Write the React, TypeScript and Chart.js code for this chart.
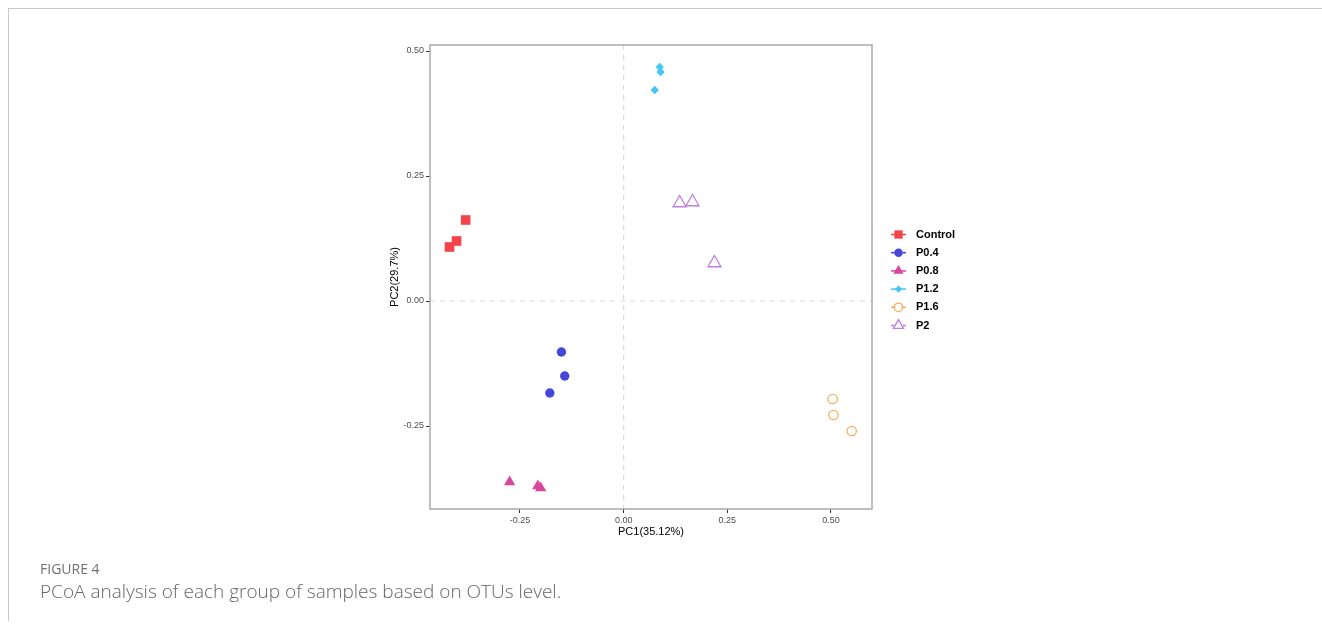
import React, { useEffect, useRef } from "react";
import { Chart, registerables } from "chart.js";

Chart.register(...registerables);

// ---- data ----
const groups = ["Control", "P0.4", "P0.8", "P1.2", "P1.6", "P2"];

const controlPC1 = [-0.42, -0.403, -0.381];
const controlPC2 = [0.108, 0.12, 0.162];

const p04PC1 = [-0.15, -0.142, -0.178];
const p04PC2 = [-0.102, -0.15, -0.184];

const p08PC1 = [-0.275, -0.207, -0.2];
const p08PC2 = [-0.362, -0.37, -0.374];

const p12PC1 = [0.087, 0.089, 0.075];
const p12PC2 = [0.468, 0.458, 0.422];

const p16PC1 = [0.504, 0.506, 0.55];
const p16PC2 = [-0.196, -0.228, -0.26];

const p2PC1 = [0.135, 0.166, 0.219];
const p2PC2 = [0.196, 0.198, 0.076];

const tickValues = [-0.25, 0, 0.25, 0.5];

const xLabel = "PC1(35.12%)";
const yLabel = "PC2(29.7%)";

// ---- styling ----
const colors = ["#F5434A", "#4646D8", "#D9469C", "#45C6F5", "#F7AE62", "#BF7FE0"];
const shapes = ["rect", "circle", "triangle", "rectRot", "circle", "triangle"];
const radii = [6.8, 4.7, 6.5, 4.2, 4.7, 7.5];
const filled = [true, true, true, true, false, false];

const pcs: [number[], number[]][] = [
  [controlPC1, controlPC2],
  [p04PC1, p04PC2],
  [p08PC1, p08PC2],
  [p12PC1, p12PC2],
  [p16PC1, p16PC2],
  [p2PC1, p2PC2],
];

function drawMarker(ctx: CanvasRenderingContext2D, shape: string, x: number, y: number, r: number, color: string, fill: boolean) {
  ctx.save();
  ctx.beginPath();
  if (shape === "rect") {
    const s = Math.SQRT1_2 * r;
    ctx.rect(x - s, y - s, 2 * s, 2 * s);
  } else if (shape === "circle") {
    ctx.arc(x, y, r, 0, Math.PI * 2);
  } else if (shape === "triangle") {
    ctx.moveTo(x, y - r);
    ctx.lineTo(x + r * Math.cos(Math.PI / 6), y + r / 2);
    ctx.lineTo(x - r * Math.cos(Math.PI / 6), y + r / 2);
    ctx.closePath();
  } else if (shape === "rectRot") {
    ctx.moveTo(x, y - r);
    ctx.lineTo(x + r, y);
    ctx.lineTo(x, y + r);
    ctx.lineTo(x - r, y);
    ctx.closePath();
  }
  if (fill) {
    ctx.fillStyle = color;
    ctx.fill();
  } else {
    ctx.strokeStyle = color;
    ctx.lineWidth = 1.3;
    ctx.stroke();
  }
  ctx.restore();
}

const framePlugin = {
  id: "frameAndZero",
  beforeDatasetsDraw(chart: any) {
    const { ctx, chartArea, scales } = chart;
    const x0 = scales.x.getPixelForValue(0);
    const y0 = scales.y.getPixelForValue(0);
    ctx.save();
    ctx.strokeStyle = "#d9d9d9";
    ctx.lineWidth = 1.2;
    ctx.setLineDash([5, 5]);
    ctx.beginPath();
    ctx.moveTo(x0, chartArea.top);
    ctx.lineTo(x0, chartArea.bottom);
    ctx.moveTo(chartArea.left, y0);
    ctx.lineTo(chartArea.right, y0);
    ctx.stroke();
    ctx.setLineDash([]);
    ctx.strokeStyle = "#a9a9a9";
    ctx.lineWidth = 1.5;
    ctx.strokeRect(chartArea.left, chartArea.top, chartArea.right - chartArea.left, chartArea.bottom - chartArea.top);
    ctx.restore();
  },
};

const legendPlugin = {
  id: "lineMarkerLegend",
  afterDraw(chart: any) {
    const { ctx, chartArea } = chart;
    const spacing = 18.2;
    const cy = (chartArea.top + chartArea.bottom) / 2 + 3;
    const yStart = cy - (spacing * (groups.length - 1)) / 2;
    const lx = chartArea.right + 19;
    ctx.save();
    groups.forEach((g, i) => {
      const y = yStart + i * spacing;
      ctx.strokeStyle = colors[i];
      ctx.lineWidth = 1.5;
      ctx.beginPath();
      ctx.moveTo(lx, y);
      ctx.lineTo(lx + 15, y);
      ctx.stroke();
      const rr = Math.min(radii[i], 6.5) * (shapes[i] === "rectRot" ? 0.85 : 0.9);
      if (!filled[i]) {
        ctx.fillStyle = "#fff";
        ctx.beginPath();
        ctx.arc(lx + 7.5, y, rr * 0.7, 0, Math.PI * 2);
        ctx.fill();
      }
      drawMarker(ctx, shapes[i], lx + 7.5, y, rr, colors[i], filled[i]);
      ctx.fillStyle = "#000";
      ctx.font = "bold 11px 'Liberation Sans', Arial, sans-serif";
      ctx.textBaseline = "middle";
      ctx.textAlign = "left";
      ctx.fillText(g, lx + 25, y);
    });
    ctx.restore();
  },
};

function PCoAChart() {
  const ref = useRef<HTMLCanvasElement | null>(null);
  useEffect(() => {
    if (!ref.current) return;
    const datasets = groups.map((g, i) => ({
      label: g,
      data: pcs[i][0].map((x, j) => ({ x, y: pcs[i][1][j] })),
      pointStyle: shapes[i] as any,
      pointRadius: radii[i],
      pointHoverRadius: radii[i],
      backgroundColor: filled[i] ? colors[i] : "rgba(0,0,0,0)",
      borderColor: colors[i],
      pointBorderWidth: filled[i] ? 0 : 1.3,
      borderWidth: filled[i] ? 0 : 1.3,
      showLine: false,
    }));
    const tickFont = { family: "'Liberation Sans', Arial, sans-serif", size: 9 };
    const chart = new Chart(ref.current, {
      type: "scatter",
      data: { datasets },
      options: {
        animation: false,
        responsive: false,
        maintainAspectRatio: false,
        layout: { padding: { left: 386, right: 450, top: 45, bottom: 21 } },
        plugins: { legend: { display: false }, tooltip: { enabled: false } },
        scales: {
          x: {
            type: "linear",
            min: -0.467,
            max: 0.599,
            afterBuildTicks: (s: any) => {
              s.ticks = tickValues.map((v) => ({ value: v }));
            },
            afterFit: (s: any) => {
              s.height = 30;
            },
            ticks: {
              font: tickFont,
              color: "#4d4d4d",
              padding: 2,
              maxRotation: 0,
              callback: (v: any) => Number(v).toFixed(2),
            },
            grid: { drawOnChartArea: false, drawTicks: true, tickLength: 4, tickColor: "#333", tickWidth: 1 },
            border: { display: false },
            title: {
              display: true,
              text: xLabel,
              color: "#000",
              font: { family: "'Liberation Sans', Arial, sans-serif", size: 11 },
              padding: 0,
            },
          },
          y: {
            type: "linear",
            min: -0.416,
            max: 0.512,
            afterBuildTicks: (s: any) => {
              s.ticks = tickValues.map((v) => ({ value: v }));
            },
            afterFit: (s: any) => {
              s.width = 44;
            },
            ticks: {
              font: tickFont,
              color: "#4d4d4d",
              padding: 2,
              callback: (v: any) => Number(v).toFixed(2),
            },
            grid: { drawOnChartArea: false, drawTicks: true, tickLength: 4, tickColor: "#333", tickWidth: 1 },
            border: { display: false },
            title: {
              display: true,
              text: yLabel,
              color: "#000",
              font: { family: "'Liberation Sans', Arial, sans-serif", size: 11 },
              padding: { top: 2, bottom: 0 },
            },
          },
        },
      },
      plugins: [framePlugin, legendPlugin],
    });
    return () => chart.destroy();
  }, []);
  return <canvas ref={ref} width={1322} height={560} style={{ position: "absolute", left: 0, top: 0 }} />;
}

export default function App() {
  return (
    <div style={{ position: "fixed", left: 0, top: 0, width: "100vw", height: "100vh", background: "#fff", overflow: "hidden" }}>
      <div
        style={{
          position: "absolute",
          left: 8,
          top: 8,
          right: 0,
          height: 612,
          borderTop: "1px solid #c8c8c8",
          borderLeft: "1px solid #c8c8c8",
        }}
      />
      <PCoAChart />
      <div
        style={{
          position: "absolute",
          left: 40,
          top: 560,
          fontFamily: "'Open Sans', Lato, sans-serif",
          color: "#707070",
        }}
      >
        <div style={{ fontSize: 14, lineHeight: "18px", letterSpacing: 0 }}>FIGURE 4</div>
        <div style={{ fontSize: 19, lineHeight: "26px", fontWeight: 300, color: "#666" }}>
          PCoA analysis of each group of samples based on OTUs level.
        </div>
      </div>
    </div>
  );
}
